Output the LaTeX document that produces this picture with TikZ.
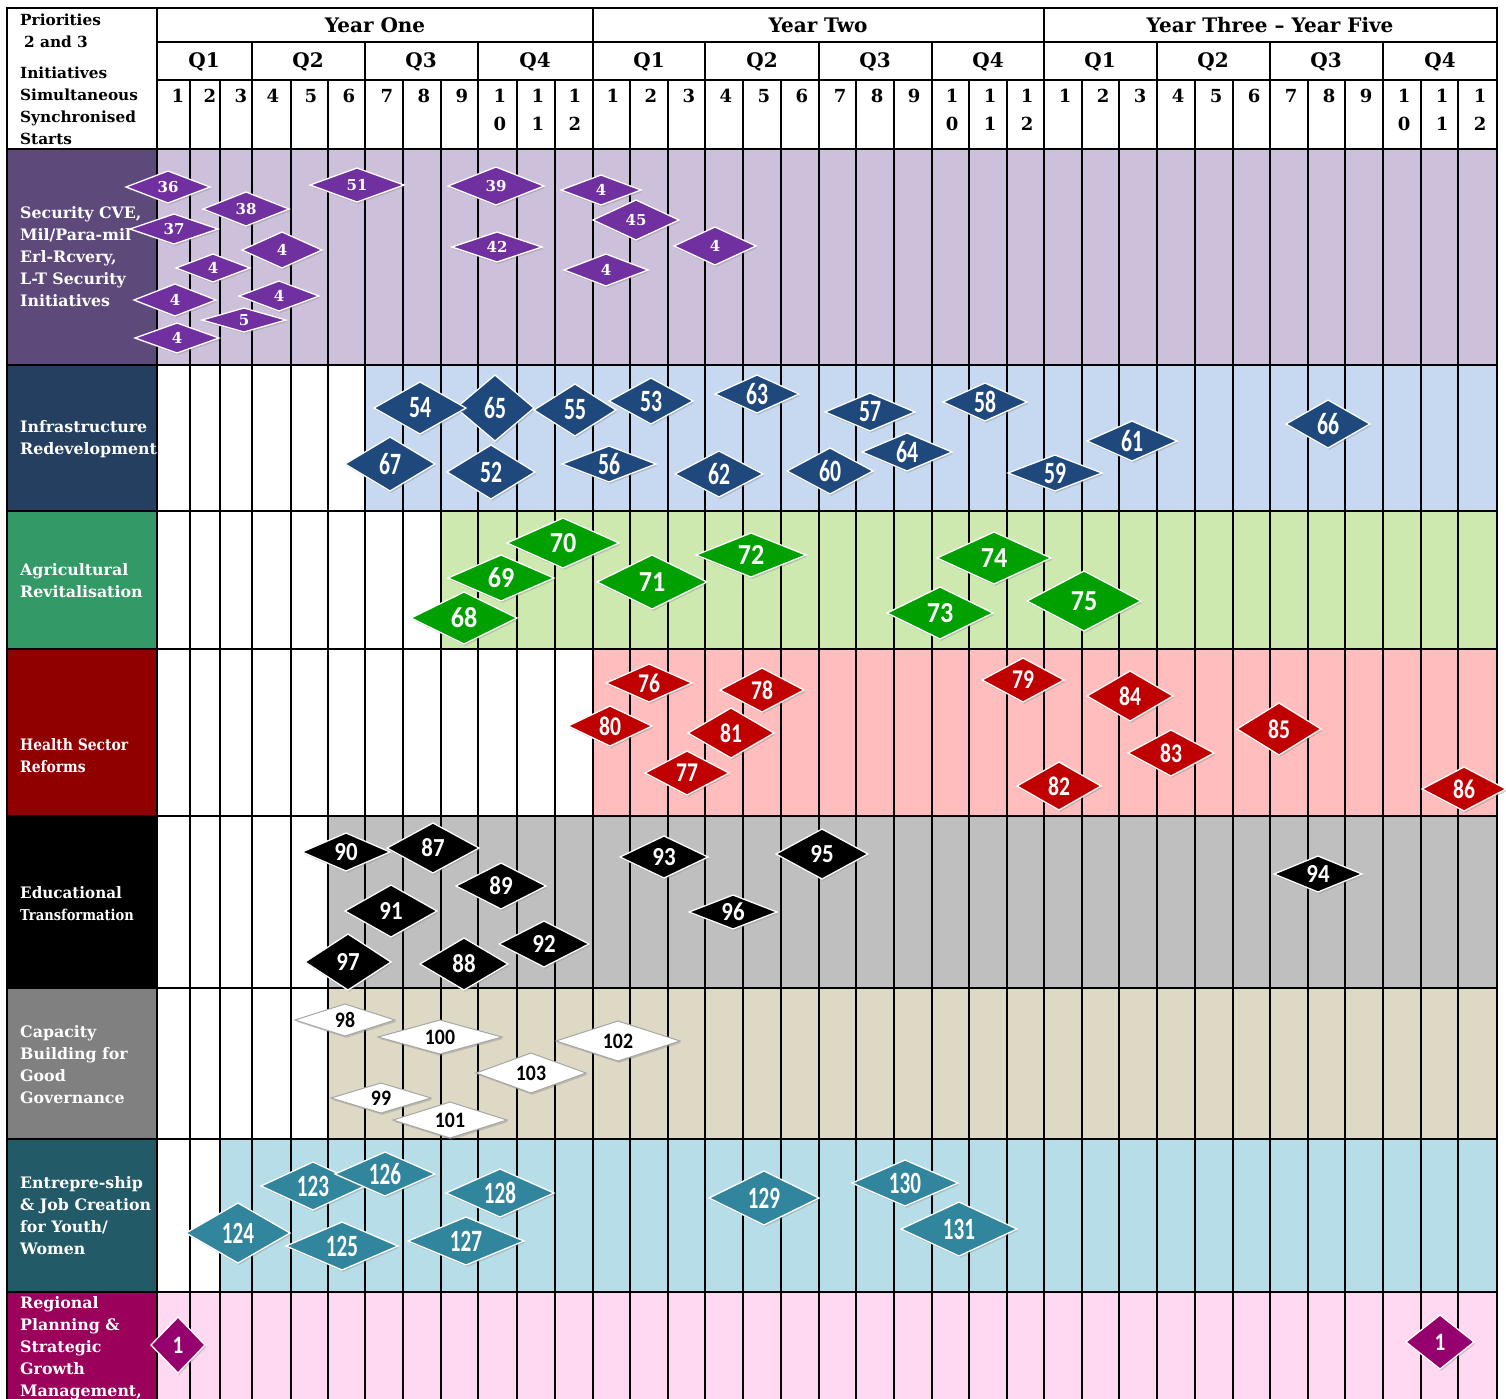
\documentclass[tikz,border=0pt]{standalone}
\usepackage{fontspec}
\usepackage{graphicx}
\setmainfont{DejaVu Serif}
\newfontfamily\numsans{Carlito}
\usetikzlibrary{shapes.geometric,shadows}

\definecolor{secL}{RGB}{94,73,123}
\definecolor{secB}{RGB}{204,192,218}
\definecolor{secD}{RGB}{112,48,160}
\definecolor{infL}{RGB}{36,63,96}
\definecolor{infB}{RGB}{198,217,241}
\definecolor{infD}{RGB}{31,73,125}
\definecolor{agrL}{RGB}{51,153,102}
\definecolor{agrB}{RGB}{205,233,175}
\definecolor{agrD}{RGB}{0,160,0}
\definecolor{heaL}{RGB}{144,0,0}
\definecolor{heaB}{RGB}{255,189,189}
\definecolor{heaD}{RGB}{192,0,0}
\definecolor{eduL}{RGB}{0,0,0}
\definecolor{eduB}{RGB}{191,191,191}
\definecolor{eduD}{RGB}{0,0,0}
\definecolor{capL}{RGB}{128,128,128}
\definecolor{capB}{RGB}{221,217,196}
\definecolor{capD}{RGB}{255,255,255}
\definecolor{entL}{RGB}{35,90,104}
\definecolor{entB}{RGB}{183,222,232}
\definecolor{entD}{RGB}{49,133,156}
\definecolor{regL}{RGB}{155,0,90}
\definecolor{regB}{RGB}{255,217,242}
\definecolor{regD}{RGB}{150,0,110}

\newcommand\fmtsec[1]{{\bfseries\fontsize{15}{15}\selectfont #1}}
\newcommand\fmtinf[1]{{\numsans\bfseries\fontsize{31}{31}\selectfont\scalebox{0.7}[1]{#1}}}
\newcommand\fmtagr[1]{{\numsans\bfseries\fontsize{29}{29}\selectfont\scalebox{0.9}[1]{#1}}}
\newcommand\fmthea[1]{{\numsans\bfseries\fontsize{27}{27}\selectfont\scalebox{0.8}[1]{#1}}}
\newcommand\fmtedu[1]{{\numsans\bfseries\fontsize{26}{26}\selectfont\scalebox{0.88}[1]{#1}}}
\newcommand\fmtcap[1]{{\numsans\bfseries\fontsize{22}{22}\selectfont\scalebox{0.9}[1]{#1}}}
\newcommand\fmtent[1]{{\numsans\bfseries\fontsize{31}{31}\selectfont\scalebox{0.68}[1]{#1}}}
\newcommand\fmtreg[1]{{\numsans\bfseries\fontsize{25}{25}\selectfont\scalebox{0.85}[1]{#1}}}

% name, x, y, half width, half height, kind, text
\newcommand\dmd[7]{%
  \node[#6 dia, minimum width=#4*2pt, minimum height=#5*2pt] (#1) at (#2,#3) {};
  \node[#6 txt] (#1t) at (#1.center) {\csname fmt#6\endcsname{#7}};}

\begin{document}
\begin{tikzpicture}[x=1pt,y=-1pt,
  gl/.style={line width=2.4pt, black},
  dia/.style={diamond, inner sep=0pt, outer sep=0pt, draw=white, line width=1.3pt,
    drop shadow={opacity=0.35, shadow xshift=1.2pt, shadow yshift=-1.8pt}},
  sec dia/.style={dia, fill=secD},
  inf dia/.style={dia, fill=infD},
  agr dia/.style={dia, fill=agrD},
  hea dia/.style={dia, fill=heaD},
  edu dia/.style={dia, fill=eduD},
  cap dia/.style={dia, fill=capD, draw=gray!70, line width=1pt},
  ent dia/.style={dia, fill=entD},
  reg dia/.style={dia, fill=regD},
  txt/.style={inner sep=0pt, text=white},
  sec txt/.style={txt}, inf txt/.style={txt}, agr txt/.style={txt},
  hea txt/.style={txt}, edu txt/.style={txt}, cap txt/.style={txt, text=black},
  ent txt/.style={txt}, reg txt/.style={txt},
  hdr/.style={font=\bfseries\fontsize{20}{20}\selectfont, inner sep=0pt},
  mon/.style={font=\bfseries\fontsize{18}{28}\selectfont, inner sep=0pt, align=center},
  lab/.style={font=\bfseries\fontsize{15.8}{22}\selectfont, text=white, inner sep=0pt,
    align=left, anchor=west}]

\useasboundingbox[fill=white] (0,0) rectangle (1506,1398);

% ---- band fills
\fill[secL] (7,149) rectangle (157,365);  \fill[secB] (157,149) rectangle (1497,365);
\fill[infL] (7,365) rectangle (157,511);  \fill[infB] (365,365) rectangle (1497,511);
\fill[agrL] (7,511) rectangle (157,649);  \fill[agrB] (441,511) rectangle (1497,649);
\fill[heaL] (7,649) rectangle (157,816);  \fill[heaB] (593,649) rectangle (1497,816);
\fill[eduL] (7,816) rectangle (157,988);  \fill[eduB] (328,816) rectangle (1497,988);
\fill[capL] (7,988) rectangle (157,1139); \fill[capB] (328,988) rectangle (1497,1139);
\fill[entL] (7,1139) rectangle (157,1292);\fill[entB] (220,1139) rectangle (1497,1292);
\fill[regL] (7,1292) rectangle (157,1410);\fill[regB] (157,1292) rectangle (1497,1410);

% ---- grid
\foreach \x in {190,220,291,328,403,441,517,555,630,668,743,781,856,894,969,1007,1082,1119,1195,1233,1308,1345,1421,1458}
  \draw[gl] (\x,80) -- (\x,1410);
\foreach \x in {252,365,478,705,819,932,1157,1270,1383}
  \draw[gl] (\x,42) -- (\x,1410);
\foreach \x in {157,593,1044}
  \draw[gl] (\x,8) -- (\x,1410);
\foreach \y in {42,80}
  \draw[gl] (157,\y) -- (1497,\y);
\foreach \y in {149,365,511,649,816,988,1139,1292}
  \draw[gl] (7,\y) -- (1497,\y);
\draw[gl] (7,1410) -- (7,8) -- (1497,8) -- (1497,1410);

% ---- header texts
\node[anchor=north west, inner sep=0pt, align=left,
  font=\bfseries\fontsize{15.3}{22}\selectfont] (corner) at (20,14)
  {Priorities\\\hspace*{4pt}2 and 3\\[9pt]Initiatives\\Simultaneous\\Synchronised\\Starts};
\node[hdr] (y1) at (375,25) {Year One};
\node[hdr] (y2) at (818,25) {Year Two};
\node[hdr] (y3) at (1270,25) {Year Three – Year Five};
\foreach \x/\t [count=\i] in {204/Q1,308/Q2,421/Q3,535/Q4,649/Q1,762/Q2,875/Q3,988/Q4,1100/Q1,1213/Q2,1326/Q3,1440/Q4}
  \node[hdr] (q\i) at (\x,62) {\t};
\foreach \x/\t [count=\i] in {178/1,210/2,241/3,273/4,311/5,349/6,387/7,424/8,462/9,
  613/1,651/2,689/3,726/4,764/5,802/6,840/7,877/8,914/9,
  1065/1,1103/2,1140/3,1178/4,1216/5,1254/6,1291/7,1329/8,1366/9}
  \node[mon] (ms\i) at (\x,96) {\t};
\foreach \x/\t [count=\i] in {500/0,538/1,575/2,952/0,990/1,1027/2,1404/0,1442/1,1480/2}
  \node[mon] (md\i) at (\x,110) {1\\\t};

% ---- row labels
\node[lab] (lsec) at (20,257) {Security CVE,\\Mil/Para-mil\\Erl-Rcvery,\\L-T Security\\Initiatives};
\node[lab] (linf) at (20,439) {Infrastructure\\Redevelopment};
\node[lab] (lagr) at (20,581) {Agricultural\\Revitalisation};
\node[lab] (lhea) at (20,756) {\scalebox{0.88}[1]{Health Sector}\\\scalebox{0.88}[1]{Reforms}};
\node[lab] (ledu) at (20,904) {\scalebox{0.96}[1]{Educational}\\{\fontsize{15}{22}\selectfont\scalebox{0.87}[1]{Transformation}}};
\node[lab] (lcap) at (20,1065) {Capacity\\Building for\\Good\\Governance};
\node[lab] (lent) at (20,1216) {Entrepre-ship\\\& Job Creation\\for Youth/\\Women};
\node[lab] (lreg) at (20,1348) {Regional\\Planning \&\\Strategic\\Growth\\Management,};

% ---- security
\dmd{d36}{168}{187}{42}{16}{sec}{36}
\dmd{d38}{246}{209}{43}{17}{sec}{38}
\dmd{d37}{174}{229}{44}{15}{sec}{37}
\dmd{d4a}{282}{250}{40}{18}{sec}{4}
\dmd{d4b}{213}{268}{37}{14}{sec}{4}
\dmd{d4c}{175}{300}{41}{16}{sec}{4}
\dmd{d4d}{279}{296}{40}{15}{sec}{4}
\dmd{d5}{244}{320}{42}{12}{sec}{5}
\dmd{d4e}{177}{338}{42}{15}{sec}{4}
\dmd{d51}{357}{185}{47}{17}{sec}{51}
\dmd{d39}{496}{186}{48}{19}{sec}{39}
\dmd{d42}{497}{247}{45}{15}{sec}{42}
\dmd{d4f}{601}{190}{40}{15}{sec}{4}
\dmd{d45}{636}{220}{43}{20}{sec}{45}
\dmd{d4g}{606}{270}{42}{16}{sec}{4}
\dmd{d4h}{715}{246}{41}{19}{sec}{4}

% ---- infrastructure
\dmd{d65}{495}{408}{39}{33}{inf}{65}
\dmd{d54}{420}{408}{46}{26}{inf}{54}
\dmd{d55}{575}{410}{41}{26}{inf}{55}
\dmd{d53}{651}{401}{42}{23}{inf}{53}
\dmd{d63}{757}{394}{42}{19}{inf}{63}
\dmd{d57}{870}{412}{45}{19}{inf}{57}
\dmd{d67}{390}{464}{45}{27}{inf}{67}
\dmd{d52}{491}{472}{44}{27}{inf}{52}
\dmd{d56}{609}{464}{47}{18}{inf}{56}
\dmd{d62}{719}{474}{44}{23}{inf}{62}
\dmd{d60}{830}{471}{43}{23}{inf}{60}
\dmd{d64}{907}{452}{45}{19}{inf}{64}
\dmd{d58}{985}{402}{42}{19}{inf}{58}
\dmd{d59}{1055}{473}{47}{18}{inf}{59}
\dmd{d61}{1132}{441}{45}{20}{inf}{61}
\dmd{d66}{1328}{424}{42}{24}{inf}{66}

% ---- agriculture
\dmd{d70}{563}{543}{56}{25}{agr}{70}
\dmd{d69}{501}{578}{53}{23}{agr}{69}
\dmd{d68}{464}{618}{53}{26}{agr}{68}
\dmd{d71}{652}{582}{55}{27}{agr}{71}
\dmd{d72}{751}{555}{55}{22}{agr}{72}
\dmd{d74}{994}{558}{57}{26}{agr}{74}
\dmd{d73}{940}{613}{53}{26}{agr}{73}
\dmd{d75}{1084}{601}{57}{30}{agr}{75}

% ---- health
\dmd{d76}{649}{683}{43}{19}{hea}{76}
\dmd{d80}{610}{726}{42}{20}{hea}{80}
\dmd{d78}{762}{690}{42}{22}{hea}{78}
\dmd{d81}{731}{733}{43}{25}{hea}{81}
\dmd{d77}{687}{773}{42}{22}{hea}{77}
\dmd{d79}{1023}{680}{41}{22}{hea}{79}
\dmd{d84}{1130}{696}{43}{25}{hea}{84}
\dmd{d82}{1059}{786}{42}{24}{hea}{82}
\dmd{d83}{1171}{753}{43}{23}{hea}{83}
\dmd{d85}{1279}{729}{42}{26}{hea}{85}
\dmd{d86}{1464}{789}{42}{22}{hea}{86}

% ---- education
\dmd{d90}{346}{852}{44}{19}{edu}{90}
\dmd{d87}{433}{848}{46}{25}{edu}{87}
\dmd{d89}{501}{886}{45}{23}{edu}{89}
\dmd{d91}{391}{911}{46}{26}{edu}{91}
\dmd{d97}{348}{962}{43}{28}{edu}{97}
\dmd{d88}{464}{964}{44}{26}{edu}{88}
\dmd{d92}{544}{944}{45}{23}{edu}{92}
\dmd{d93}{664}{857}{44}{21}{edu}{93}
\dmd{d96}{733}{912}{44}{17}{edu}{96}
\dmd{d95}{822}{854}{46}{25}{edu}{95}
\dmd{d94}{1318}{874}{44}{18}{edu}{94}

% ---- capacity
\dmd{d98}{345}{1020}{50}{16}{cap}{98}
\dmd{d100}{440}{1037}{62}{17}{cap}{100}
\dmd{d102}{618}{1041}{62}{20}{cap}{102}
\dmd{d103}{531}{1073}{55}{20}{cap}{103}
\dmd{d99}{381}{1098}{50}{15}{cap}{99}
\dmd{d101}{450}{1120}{57}{18}{cap}{101}

% ---- entrepreneurship
\dmd{d123}{313}{1186}{52}{24}{ent}{123}
\dmd{d126}{385}{1174}{50}{22}{ent}{126}
\dmd{d128}{500}{1193}{54}{24}{ent}{128}
\dmd{d124}{238}{1233}{52}{30}{ent}{124}
\dmd{d125}{342}{1246}{56}{24}{ent}{125}
\dmd{d127}{466}{1241}{58}{24}{ent}{127}
\dmd{d129}{764}{1198}{55}{27}{ent}{129}
\dmd{d130}{905}{1183}{53}{23}{ent}{130}
\dmd{d131}{959}{1229}{58}{27}{ent}{131}

% ---- regional
\dmd{d1a}{178}{1345}{27}{28}{reg}{1}
\dmd{d1b}{1440}{1342}{34}{27}{reg}{1}
\end{tikzpicture}
\end{document}
